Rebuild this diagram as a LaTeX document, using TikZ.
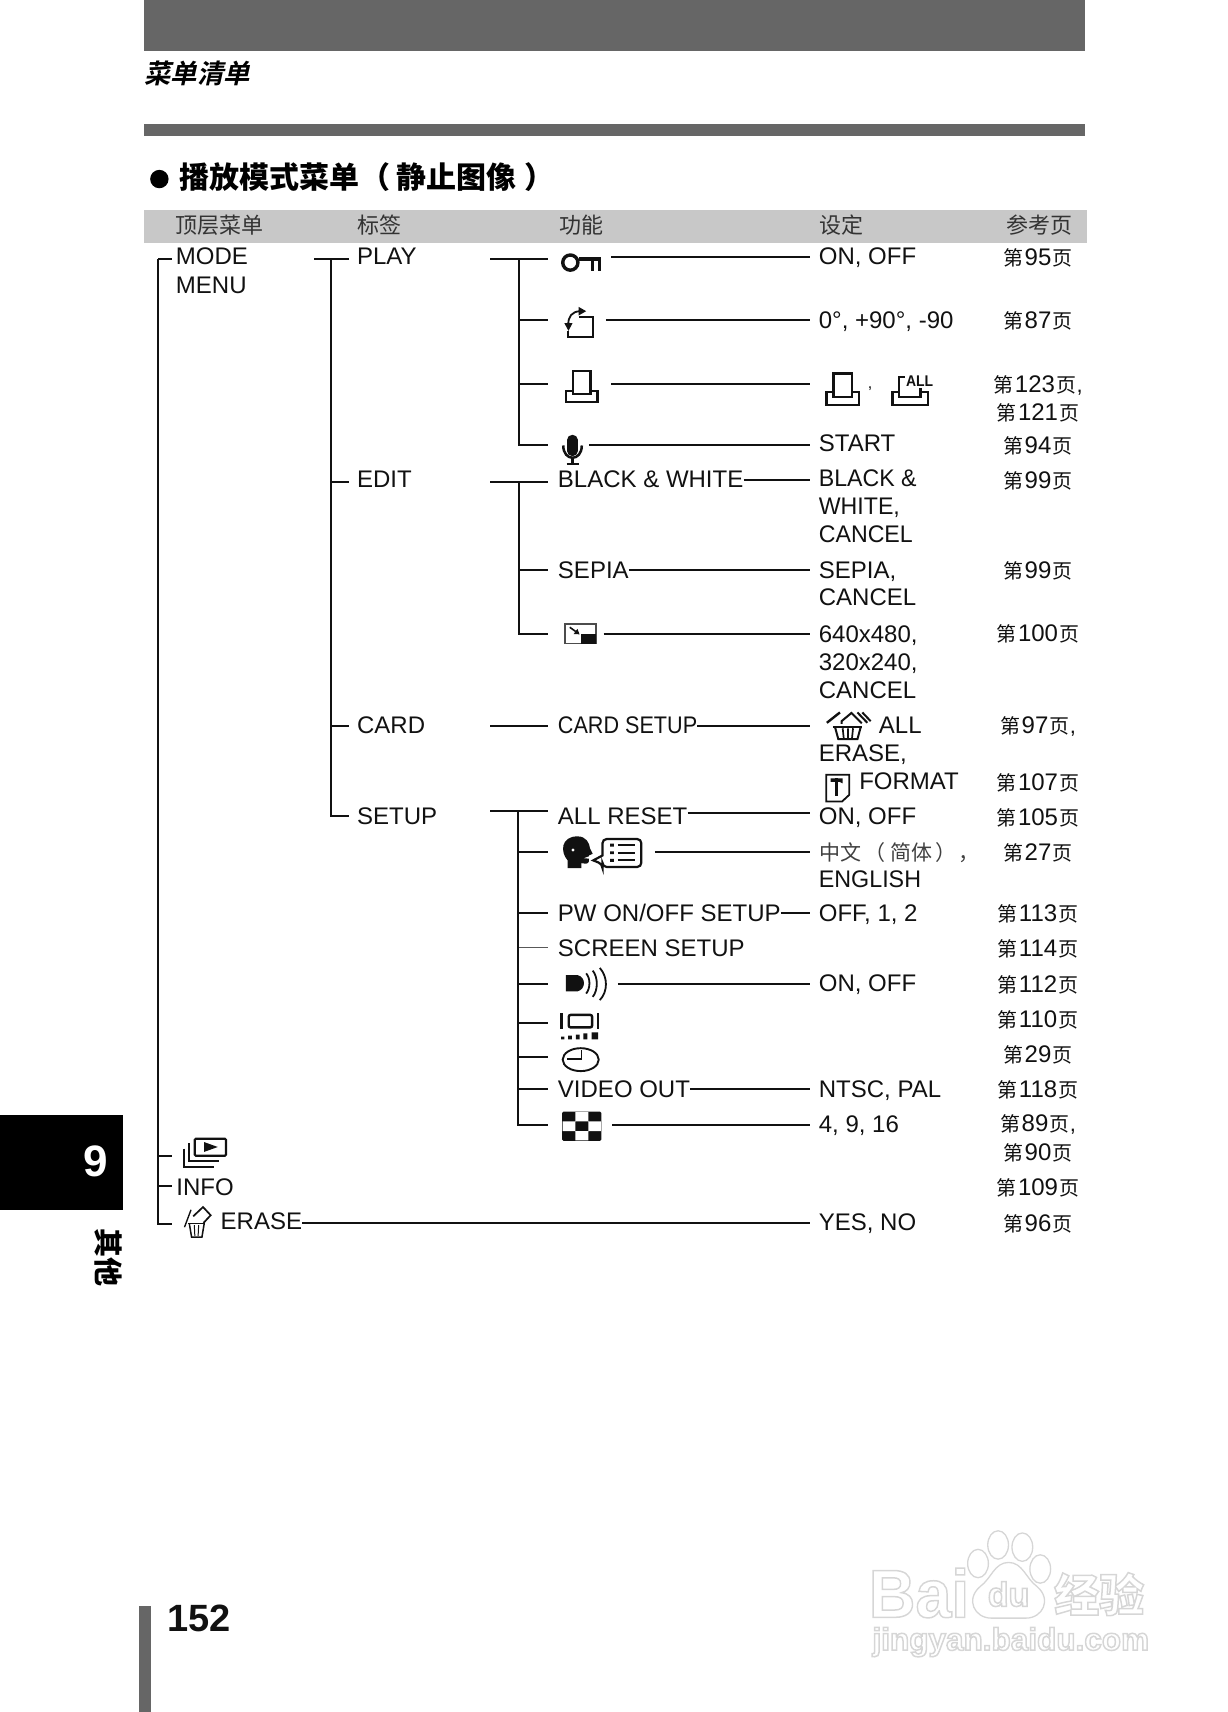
\documentclass[tikz,border=0pt]{standalone}
\usepackage{fontspec}
\usetikzlibrary{fit,calc,arrows.meta}
\setmainfont{Liberation Sans}
\newfontfamily\cjk{Noto Sans CJK SC}
\newfontfamily\cjkslant[FakeSlant=0.22,BoldFont={Noto Sans CJK SC Bold}]{Noto Sans CJK SC}
\definecolor{band}{HTML}{666666}
\definecolor{headband}{HTML}{C8C8C8}
\definecolor{ink}{HTML}{111111}
\definecolor{pale}{HTML}{D6D6D6}
\newcommand\refp[2][]{{\cjk\fontsize{20}{20}\selectfont 第}\kern1.5pt{\fontsize{24}{24}\selectfont #2}\kern1.5pt{\cjk\fontsize{20}{20}\selectfont 页}#1}
\newcommand\halo[1]{\special{pdf:code q 1 Tr 1.5 w 0.84 0.84 0.84 RG 1 1 1 rg}#1\special{pdf:code Q}}
\tikzset{
  conn/.style={line width=2pt,draw=ink},
  thinconn/.style={line width=.8pt,draw=ink!70},
  txt/.style={inner sep=0pt,anchor=west,text=ink,text height=18pt,text depth=0pt,font=\fontsize{24}{27.7}\selectfont},
  lines/.style={inner sep=0pt,anchor=north west,align=left,text=ink,font=\fontsize{24}{27.8}\selectfont},
  refn/.style={inner sep=0pt,anchor=center,text=ink,font=\fontsize{22}{22}\selectfont},
  hdr/.style={inner sep=0pt,anchor=west,text=black!80,font=\cjk\fontsize{22}{22}\selectfont},
  iconbox/.style={inner sep=0pt,outer sep=0pt},
  ic/.style={line width=2.5pt,draw=ink,line cap=butt,line join=miter},
  icfine/.style={line width=1.5pt,draw=ink},
}
\newcommand\iconbox[4]{\node[iconbox,fit={(#2,#4)(#3,#4)}] (#1) {};}
\begin{document}
\begin{tikzpicture}[x=1.09156pt,y=-1.09184pt]
\useasboundingbox (0,0) rectangle (1125,1568);
% bands
\fill[band] (132,0) rectangle (994,46.5);
\fill[band] (132,113.5) rectangle (994,124.5);
\fill[headband] (132,192.5) rectangle (996,222.5);
\node[inner sep=0pt,anchor=west,text=black,font=\cjkslant\bfseries\fontsize{26.5}{26.5}\selectfont] (caption) at (132,67) {菜单清单};
\fill[black] (146,164) circle (9.2pt);
\node[inner sep=0pt,anchor=west,text=black,font=\cjk\bfseries\fontsize{30}{30}\selectfont] (section) at (164,162.5) {播放模式菜单\kern1.5pt（\kern5.5pt静止图像\kern8pt）};
% header
\node[hdr] (h1) at (161,206) {顶层菜单};
\node[hdr] (h2) at (327,206) {标签};
\node[hdr] (h3) at (512,206) {功能};
\node[hdr] (h4) at (751,206) {设定};
\node[hdr] (h5) at (922,206) {参考页};
% column helpers
\coordinate (vcol) at (742.5,0);
\coordinate (fcol) at (502,0);
\coordinate (lcol) at (320,0);
\coordinate (tcol) at (157.5,0);
% level 0/1 text
\node[lines,font=\fontsize{24}{29.5}\selectfont] (nmode) at (161,226.5) {MODE\\MENU};
\node[txt] (nplay) at (327,234) {PLAY};
\node[txt] (nedit) at (327,438.5) {EDIT};
\node[txt] (ncard) at (327,664) {CARD};
\node[txt] (nsetup) at (327,747) {SETUP};
\node[txt] (ninfo) at (161.5,1086.5) {INFO};
\node[txt] (nerase) at (202,1118) {ERASE};
% function text
\node[txt] (fbw) at (511,438.5) {BLACK \& WHITE};
\node[txt] (fsepia) at (511,522) {SEPIA};
\node[txt,xscale=.9] (fcard) at (511,664) {CARD SETUP};
\node[txt] (freset) at (511,747) {ALL RESET};
\node[txt] (fpw) at (511,836) {PW ON/OFF SETUP};
\node[txt] (fscreen) at (511,868) {SCREEN SETUP};
\node[txt] (fvideo) at (511,997) {VIDEO OUT};
% values
\node[txt] (vkey) at (750,234) {ON, OFF};
\node[txt] (vrot) at (750,293) {0°, +90°, -90};
\node[txt] (vstart) at (750,405.5) {START};
\node[lines,xscale=.965] (vbw) at (750,430.5) {BLACK \&\\WHITE,\\CANCEL};
\node[lines] (vsepia) at (750,514) {SEPIA,\\CANCEL};
\node[lines] (vres) at (750,573) {640x480,\\320x240,\\CANCEL};
\node[txt] (vall) at (805,664) {ALL};
\node[txt] (verase) at (750,689) {ERASE,};
\node[txt] (vformat) at (787,715) {FORMAT};
\node[txt] (vreset) at (750,747) {ON, OFF};
\node[inner sep=0pt,anchor=west,text=black!75,font=\cjk\fontsize{21}{21}\selectfont] (vlang) at (751,781) {中文\kern3pt（\kern5pt简体\kern3pt）\kern2pt，};
\node[txt,xscale=.97] (veng) at (750,805) {ENGLISH};
\node[txt] (vpw) at (750,836) {OFF, 1, 2};
\node[txt] (vsound) at (750,900) {ON, OFF};
\node[txt] (vvideo) at (750,997) {NTSC, PAL};
\node[txt] (vgrid) at (750,1029) {4, 9, 16};
\node[txt] (vyes) at (750,1119) {YES, NO};
\node[inner sep=0pt,text=ink,font=\fontsize{16}{16}\selectfont] (vcomma) at (797,356) {,};
% page refs
\node[refn] (r1) at (951,236) {\refp{95}};
\node[refn] (r2) at (951,294) {\refp{87}};
\node[refn] (r3) at (951,353) {\refp[,]{123}};
\node[refn] (r3b) at (951,378) {\refp{121}};
\node[refn] (r4) at (951,408) {\refp{94}};
\node[refn] (r5) at (951,440) {\refp{99}};
\node[refn] (r6) at (951,523) {\refp{99}};
\node[refn] (r7) at (951,581) {\refp{100}};
\node[refn] (r8) at (951,665) {\refp[,]{97}};
\node[refn] (r9) at (951,717) {\refp{107}};
\node[refn] (r10) at (951,749) {\refp{105}};
\node[refn] (r11) at (951,781) {\refp{27}};
\node[refn] (r12) at (951,837) {\refp{113}};
\node[refn] (r13) at (951,869) {\refp{114}};
\node[refn] (r14) at (951,902) {\refp{112}};
\node[refn] (r15) at (951,934) {\refp{110}};
\node[refn] (r16) at (951,966) {\refp{29}};
\node[refn] (r17) at (951,998) {\refp{118}};
\node[refn] (r18) at (951,1030) {\refp[,]{89}};
\node[refn] (r18b) at (951,1056) {\refp{90}};
\node[refn] (r19) at (951,1088) {\refp{109}};
\node[refn] (r20) at (951,1121) {\refp{96}};
% icon boxes (stub end to connector start)
\iconbox{ikey}{502}{560}{235}
\iconbox{irot}{502}{555}{293.5}
\iconbox{iprint}{502}{560}{352}
\iconbox{imic}{502}{540}{407.5}
\iconbox{ires}{502}{553}{581}
\iconbox{ivoice}{502}{600}{780}
\iconbox{isound}{502}{566}{901}
\iconbox{ibright}{502}{550}{937}
\iconbox{iclock}{502}{550}{968}
\iconbox{igrid}{502}{561}{1030.5}
\iconbox{istack}{157.5}{167}{1059}
\iconbox{itrash}{157.5}{168}{1121}
% trunks
\coordinate (t0) at (145,237);
\coordinate (t1a) at (288,237);
\coordinate (t1) at (303,237);
\coordinate (t2p) at (475.5,237);
\coordinate (t2pa) at (449,237);
\coordinate (t2e) at (475.5,441);
\coordinate (t2ea) at (449,441);
\coordinate (t2ca) at (449,665);
\coordinate (t2s) at (475,743);
\coordinate (t2sa) at (449,743);
% level 0
\draw[conn] (t0) -- (t0 -| tcol);
\draw[conn] (t0) |- (istack.west);
\draw[conn] (t0) |- (ninfo.west -| tcol);
\draw[conn] (t0) |- (itrash.west);
% level 1
\draw[conn] (t1a) -- (t1a -| lcol);
\draw[conn] (t1) |- (0,441 -| lcol);
\draw[conn] (t1) |- (0,665 -| lcol);
\draw[conn] (t1) |- (0,747 -| lcol);
% PLAY group
\draw[conn] (t2pa) -- (t2pa -| fcol);
\draw[conn] (t2p) |- (irot.west);
\draw[conn] (t2p) |- (iprint.west);
\draw[conn] (t2p) |- (imic.west);
\draw[conn] (ikey.east) -- (ikey.east -| vcol);
\draw[conn] (irot.east) -- (irot.east -| vcol);
\draw[conn] (iprint.east) -- (iprint.east -| vcol);
\draw[conn] (imic.east) -- (imic.east -| vcol);
% EDIT group
\draw[conn] (t2ea) -- (t2ea -| fcol);
\draw[conn] (t2e) |- (0,522.5 -| fcol);
\draw[conn] (t2e) |- (ires.west);
\draw[conn] (fbw.east |- 0,440) -- (0,440 -| vcol);
\draw[conn] (fsepia.east |- 0,522.5) -- (0,522.5 -| vcol);
\draw[conn] (ires.east) -- (ires.east -| vcol);
% CARD group
\draw[conn] (t2ca) -- (t2ca -| fcol);
\draw[conn] (fcard.east |- 0,664.5) -- (0,664.5 -| vcol);
% SETUP group
\draw[conn] (t2sa) -- (t2sa -| fcol);
\draw[conn] (t2s) |- (ivoice.west);
\draw[conn] (t2s) |- (0,836 -| fcol);
\draw[thinconn] (t2s |- 0,868) -- (0,868 -| fcol);
\draw[conn] (t2s) |- (isound.west);
\draw[conn] (t2s) |- (ibright.west);
\draw[conn] (t2s) |- (iclock.west);
\draw[conn] (t2s) |- (0,997 -| fcol);
\draw[conn] (t2s) |- (igrid.west);
\draw[conn] (freset.east |- 0,744.5) -- (0,744.5 -| vcol);
\draw[conn] (ivoice.east) -- (ivoice.east -| vcol);
\draw[conn] (fpw.east |- 0,836) -- (0,836 -| vcol);
\draw[conn] (isound.east) -- (isound.east -| vcol);
\draw[conn] (fvideo.east |- 0,997) -- (0,997 -| vcol);
\draw[conn] (igrid.east) -- (igrid.east -| vcol);
% ERASE row
\draw[conn] (nerase.east |- 0,1120) -- (0,1120 -| vcol);
% --- icons ---
% key
\draw[line width=3.4pt,draw=ink] (522.5,240.5) circle (7.6pt);
\fill[ink] (530,235.5) rectangle (550.5,239);
\fill[ink] (541,235.5) rectangle (544,248);
\fill[ink] (547.5,235.5) rectangle (550.5,248);
% rotate
\draw[ic,line width=2.2pt] (520.6,303.5) |- (543.5,308.5) |- (530.5,290.6);
\draw[ic,line width=1.8pt] (520.6,297) .. controls (520.6,290) and (524,285.5) .. (531,285);
\fill[ink] (530,281) -- (537,285) -- (530,289) -- cycle;
\fill[ink] (517,296) -- (524.5,296) -- (520.8,303) -- cycle;
% print
\draw[ic] (525,340) rectangle (540.8,361);
\draw[ic] (525,358) -| (518.5,368) -| (547.5,358) -- (540.8,358);
\draw[ic] (763.6,342) rectangle (780.4,363.5);
\draw[ic] (763.6,359) -| (757,371) -| (787,359) -- (780.4,359);
% print all
\draw[ic] (823.5,359) -| (817.5,371) -| (850,359) -- (843.5,359);
\draw[ic] (823.5,363.5) -- (843.5,363.5);
\draw[ic] (823.5,364.5) -- (823.5,345.5) -- (829,345.5);
\draw[ic] (843.5,355.5) -- (843.5,364.5);
\node[inner sep=0pt,text=ink,xscale=.9,font=\bfseries\fontsize{15.5}{15.5}\selectfont] (allmark) at (842.5,349.5) {ALL};
% mic
\draw[line width=10.5pt,line cap=round,draw=ink] (524.3,403) -- (524.3,413);
\draw[ic] (516,408) .. controls (516,423) and (533,423) .. (533,408);
\draw[ic] (524.3,419) -- (524.3,425);
\draw[ic] (519,425) -- (530,425);
% resize
\draw[icfine,draw=black!70] (517.5,571.5) rectangle (546,589.5);
\fill[ink] (532,581) rectangle (546,589.5);
\draw[line width=1.6pt,draw=ink,-{Triangle[length=5pt,width=6pt]}] (522,574.5) -- (531,581);
% all erase
\draw[line width=2.2pt,draw=ink] (763,666) -- (790,666);
\draw[line width=2pt,draw=ink] (765,666) -- (768,677) -- (785.5,677) -- (788.5,666);
\draw[line width=1.7pt,draw=ink] (772,667) -- (773,676.5) (776.8,667) -- (776.8,676.5) (781.5,667) -- (780.5,676.5);
\draw[line width=2.4pt,draw=ink] (757.5,662) -- (769.5,652.5);
\draw[line width=2pt,draw=ink] (771,663) -- (771,660.5) -- (780,653) -- (789.5,662.5);
\draw[line width=2pt,draw=ink] (785.5,652.5) -- (794.6,662) (790,652.5) -- (797.6,660.5);
% format
\draw[line width=1.8pt,draw=ink] (757,709.5) -- (778,709.5) -- (778,728) -- (771.5,734) -- (757,734) -- cycle;
\draw[line width=2.6pt,draw=ink] (766.5,713) -- (766.5,729);
\fill[ink] (761,713) -- (772,713) -- (772,717.5) -- (769,716) -- (761,716) -- cycle;
% voice
\fill[ink] (520,795) -- (520,788) .. controls (513,780) and (514,766) .. (529,766) .. controls (537,766) and (540,772) .. (540.5,777) -- (543,782) -- (539.5,783.5) -- (539.5,789) .. controls (539,791.5) and (535,791.5) .. (532.5,790.5) -- (532.5,795) -- cycle;
\fill[white] (525,778.5) circle (1.6pt);
\fill[white] (535,786) -- (540.5,784) -- (540.5,786.5) -- cycle;
\draw[line width=2.2pt,draw=ink,rounded corners=4pt] (552,783.5) -- (552,768.5) -- (587.5,768.5) -- (587.5,794) -- (552,794) -- (552,791.5) [sharp corners] -- (543.5,788) -- (552,783.5) -- cycle;
\draw[line width=2.2pt,draw=ink] (566,774) -- (582,774) (566,781) -- (582,781) (566,788) -- (582,788);
\fill[ink] (559,772.7) rectangle (562.3,775.3) (559,779.7) rectangle (562.3,782.3) (559,786.7) rectangle (562.3,789.3);
% sound
\fill[ink] (518.5,893) -- (529,893) .. controls (537,895) and (537,906) .. (529,908) -- (518.5,908) -- cycle;
\draw[line width=1.8pt,draw=ink] (537,891.5) .. controls (541,896) and (541,905) .. (537,910);
\draw[line width=1.8pt,draw=ink] (543,889) .. controls (548,895) and (548,907) .. (543,913);
\draw[line width=1.8pt,draw=ink] (549.5,886.5) .. controls (557,895) and (557,908) .. (549.5,916);
% brightness
\fill[ink] (513,928) rectangle (515.5,942);
\fill[ink] (546.5,928) rectangle (549,942);
\draw[line width=2.4pt,draw=ink,rounded corners=2pt] (521,929.5) rectangle (542.5,941);
\fill[ink] (514,949.5) rectangle (517,952) (520.5,948.5) rectangle (524,952) (527.5,947.5) rectangle (531,952) (534.5,946.5) rectangle (538,952) (542,945.5) rectangle (548,952);
% clock
\draw[line width=1.9pt,draw=ink] (532,970.5) ellipse (16.5 and 10.5);
\draw[line width=1.9pt,draw=ink] (532.7,962) |- (519,970);
% grid
\fill[ink,rounded corners=1.5pt] (515,1018) rectangle (551,1045);
\fill[white] (527,1018.5) rectangle (539,1027) (515.5,1027) rectangle (527,1036) (539,1027) rectangle (550.5,1036) (527,1036) rectangle (539,1044.5);
% stack
\draw[line width=2.2pt,draw=ink,rounded corners=1pt] (178.5,1043) rectangle (207,1058.5);
\fill[ink] (187,1046) -- (199.5,1050.5) -- (187,1055) -- cycle;
\draw[line width=2.2pt,draw=ink] (173,1047) -- (173,1063.5) -- (201,1063.5);
\draw[line width=2.2pt,draw=ink] (168.5,1052) -- (168.5,1069) -- (196,1069);
% small erase
\draw[line width=1.4pt,draw=ink] (169,1124) -- (175,1108);
\draw[line width=1.7pt,draw=ink] (177,1114) -- (186,1105.5) -- (193,1113) -- (186.5,1120);
\draw[line width=1.7pt,draw=ink] (172.5,1120.5) -- (188,1120.5);
\draw[line width=1.5pt,draw=ink] (173.5,1121) -- (175.5,1133) -- (185,1133) -- (187,1121);
\draw[line width=1pt,draw=ink] (178,1122) -- (178.5,1132) (182,1122) -- (181.5,1132);
% side tab
\fill[black] (0,1021) rectangle (113,1108);
\node[inner sep=0pt,text=white,font=\bfseries\fontsize{44}{44}\selectfont] (tabnum) at (87.5,1064) {9};
\node[inner sep=0pt,rotate=-90,text=black,font=\cjk\bfseries\fontsize{29}{29}\selectfont] (tablabel) at (99,1152) {其他};
% page number
\fill[band] (127,1471) rectangle (138,1568);
\node[inner sep=0pt,anchor=west,text=ink,font=\bfseries\fontsize{38}{38}\selectfont] (pagenum) at (153,1482) {152};
% watermark
\node[inner sep=0pt,xscale=.95,font=\bfseries\fontsize{68}{68}\selectfont] (wbai) at (842,1459) {\halo{Bai}};
\foreach \tx/\ty in {896/1432,914.4/1415,936.6/1417,953/1437}
  \draw[pale,line width=1.3pt,fill=white] (\tx,\ty) ellipse (9.5 and 13);
\draw[pale,line width=1.3pt,fill=white] (924,1431) .. controls (937,1431) and (940,1446) .. (950,1453) .. controls (964,1465) and (955,1482) .. (940,1482) -- (908,1482) .. controls (893,1482) and (884,1465) .. (898,1453) .. controls (908,1446) and (911,1431) .. (924,1431) -- cycle;
\node[inner sep=0pt,font=\bfseries\fontsize{34}{34}\selectfont] (wdu) at (924,1460) {\halo{du}};
\node[inner sep=0pt,font=\cjk\bfseries\fontsize{45}{45}\selectfont] (wjy) at (1007,1460) {\halo{经验}};
\node[inner sep=0pt,font=\bfseries\fontsize{31.5}{31.5}\selectfont] (wurl) at (926,1504) {\halo{jingyan.baidu.com}};
\end{tikzpicture}
\end{document}
